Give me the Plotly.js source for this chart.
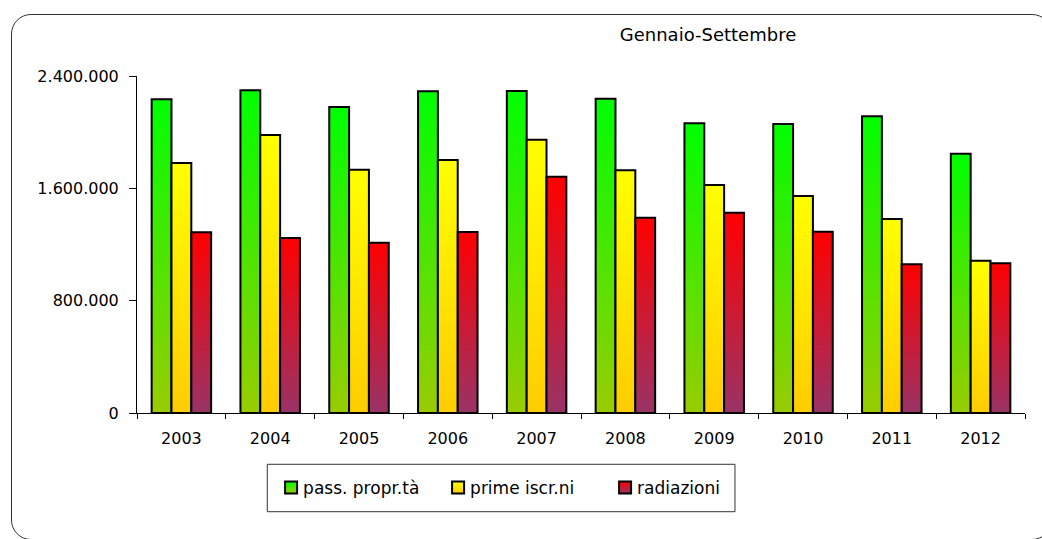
<!DOCTYPE html>
<html><head><meta charset="utf-8">
<script src="https://cdn.plot.ly/plotly-3.0.1.min.js"></script>
<style>
html,body{margin:0;padding:0;background:#fff;overflow:hidden}
#frame{position:absolute;left:11px;top:14px;width:1041px;height:526px;border:1.5px solid #333;border-radius:20px;box-sizing:border-box}
#chart{position:absolute;left:0;top:0;width:1042px;height:539px}
</style></head><body>
<div id="frame"></div>
<div id="chart"></div>
<script>
const years = ['2003','2004','2005','2006','2007','2008','2009','2010','2011','2012'];
const passPropr  = [2234000, 2298000, 2179000, 2292000, 2293000, 2238000, 2063000, 2058000, 2113000, 1847000];
const primeIscr  = [1780000, 1980000, 1733000, 1802000, 1946000, 1728000, 1624000, 1545000, 1382000, 1085000];
const radiazioni = [1287000, 1246000, 1213000, 1289000, 1683000, 1391000, 1427000, 1291000, 1059000, 1066000];
const seriesNames = ['pass. propr.tà', 'prime iscr.ni', 'radiazioni'];
const yTicks = [0, 800000, 1600000, 2400000];
const gradTop = ['#00FF00', '#FFFF00', '#FF0000'];
const gradBottom = ['#99CC00', '#FFCC00', '#993366'];

const FONT = 'DejaVu Sans, Liberation Sans, Arial, sans-serif';
const values = [passPropr, primeIscr, radiazioni];
const data = values.map((v, i) => ({
  type: 'bar', x: years, y: v, name: seriesNames[i],
  marker: {color: gradTop[i], line: {color: '#000', width: 2}}
}));

const layout = {
  width: 1042, height: 539,
  paper_bgcolor: 'rgba(0,0,0,0)', plot_bgcolor: 'rgba(0,0,0,0)',
  margin: {l: 137, r: 17, t: 76, b: 126, pad: 0},
  separators: ',.',
  font: {family: FONT, size: 16, color: '#000'},
  title: {text: 'Gennaio-Settembre', x: 708/1042, xanchor: 'center', xref: 'container',
          y: 1 - 35/539, yanchor: 'middle', yref: 'container', font: {family: FONT, size: 18, color: '#000'}},
  bargap: 0.33, bargroupgap: 0, barmode: 'group',
  xaxis: {type: 'category', tickson: 'boundaries', ticks: 'outside', ticklen: 5, tickcolor: '#000',
          showline: true, linecolor: '#000', linewidth: 1, showgrid: false, zeroline: false,
          ticklabelstandoff: 11, tickfont: {family: FONT, size: 16}},
  yaxis: {range: [0, 2400000], tickvals: yTicks, tickformat: ',d', ticks: 'outside', ticklen: 7,
          tickcolor: '#000', showline: true, linecolor: '#000', linewidth: 1, showgrid: false,
          zeroline: false, ticklabelstandoff: 7, tickfont: {family: FONT, size: 16}},
  showlegend: true,
  legend: {orientation: 'h', x: 0.151, xanchor: 'left', y: -0.2226, yanchor: 'middle',
           bgcolor: 'rgba(0,0,0,0)', borderwidth: 0, font: {family: FONT, size: 17, color: '#000'},
           traceorder: 'normal', entrywidth: 122, entrywidthmode: 'pixels'},
  shapes: [{type: 'rect', xref: 'paper', yref: 'paper', x0: 0.1467, x1: 0.6734, y0: -0.1522, y1: -0.2929,
            line: {color: '#333', width: 1}, fillcolor: '#fff', layer: 'below'}]
};

Plotly.newPlot('chart', data, layout, {staticPlot: true}).then(gd => {
  const ns = 'http://www.w3.org/2000/svg';
  const svg = gd.querySelector('svg.main-svg');
  let defs = svg.querySelector('defs');
  if (!defs) { defs = document.createElementNS(ns, 'defs'); svg.insertBefore(defs, svg.firstChild); }
  gradTop.forEach((c, i) => {
    const lg = document.createElementNS(ns, 'linearGradient');
    lg.setAttribute('id', 'bargrad' + i);
    lg.setAttribute('x1', '0'); lg.setAttribute('y1', '0'); lg.setAttribute('x2', '0'); lg.setAttribute('y2', '1');
    [[0, c], [1, gradBottom[i]]].forEach(([o, col]) => {
      const s = document.createElementNS(ns, 'stop');
      s.setAttribute('offset', o); s.setAttribute('stop-color', col);
      lg.appendChild(s);
    });
    defs.appendChild(lg);
  });
  gd.querySelectorAll('.barlayer .trace').forEach((tr, i) => {
    tr.querySelectorAll('path').forEach(p => { p.style.fill = 'url(#bargrad' + i + ')'; });
  });
  gd.querySelectorAll('.legend .traces').forEach((tr, i) => {
    tr.querySelectorAll('.legendpoints path').forEach(p => { p.style.fill = 'url(#bargrad' + i + ')'; });
    tr.querySelectorAll('text.legendtext').forEach(t => { t.setAttribute('x', '32'); });
  });
});
</script>
</body></html>
